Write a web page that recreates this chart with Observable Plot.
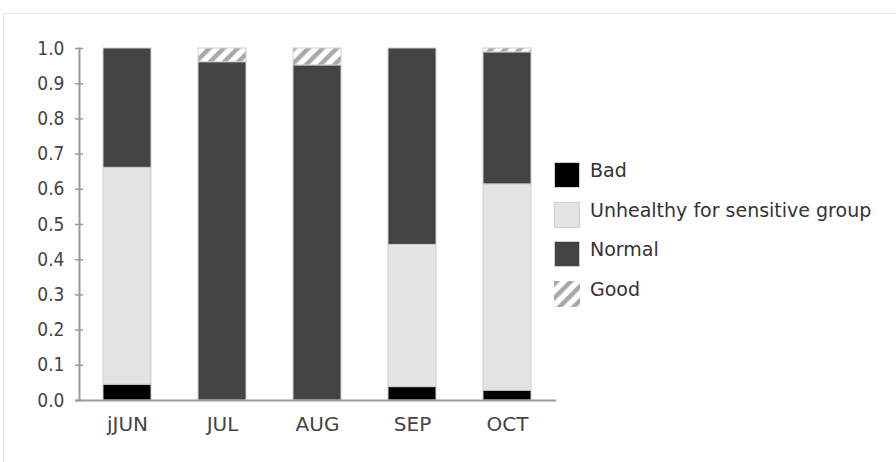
<!DOCTYPE html>
<html>
<head>
<meta charset="utf-8">
<script src="https://cdn.jsdelivr.net/npm/d3@7"></script>
<script src="https://cdn.jsdelivr.net/npm/@observablehq/plot@0.6"></script>
<style>
  html, body { margin: 0; padding: 0; background: #fff; }
  #wrap { position: relative; width: 896px; height: 462px; overflow: hidden; font-family: "DejaVu Sans", sans-serif; }
  #border { position: absolute; left: 3px; top: 13px; width: 900px; height: 470px; border: 1px solid #e6e6e6; box-sizing: border-box; }
  #chart { position: absolute; left: 0; top: 0; }
  .lg { position: absolute; left: 554px; width: 26px; height: 26px; box-sizing: border-box; }
  .lt { position: absolute; left: 590px; font-size: 19px; color: #333; line-height: 26px; white-space: nowrap; }
  .yl text { font-family: "DejaVu Sans Condensed", "DejaVu Sans", sans-serif; font-stretch: condensed; }
</style>
</head>
<body>
<div id="wrap">
  <div id="border"></div>
  <div id="chart"></div>
  <div id="legend"></div>
</div>
<script>
const months = ["jJUN", "JUL", "AUG", "SEP", "OCT"];
const categories = ["Bad", "Unhealthy for sensitive group", "Normal", "Good"];
const bad       = [0.045, 0,     0,     0.038, 0.028];
const unhealthy = [0.616, 0,     0,     0.404, 0.586];
const normal    = [0.339, 0.961, 0.952, 0.558, 0.375];
const good      = [0,     0.039, 0.048, 0,     0.011];
const yTicks = [0, 0.1, 0.2, 0.3, 0.4, 0.5, 0.6, 0.7, 0.8, 0.9, 1.0];

const colors = ["#000000", "#e3e3e3", "#434343", "url(#hatch)"];
const series = [bad, unhealthy, normal, good];
const rows = [];
categories.forEach((c, ci) => months.forEach((m, mi) => rows.push({month: m, cat: c, value: series[ci][mi]})));

const axisColor = "#9a9a9a";
const chart = Plot.plot({
  width: 896,
  height: 462,
  marginLeft: 75,
  marginRight: 340,
  marginTop: 48,
  marginBottom: 62,
  style: {fontFamily: "DejaVu Sans, sans-serif", fontSize: "19px", color: "#444", background: "transparent"},
  x: {domain: months, range: [78, 557], paddingInner: 0.49, paddingOuter: 0.245, label: null},
  y: {domain: [0, 1], label: null},
  color: {domain: categories, range: colors},
  marks: [
    Plot.barY(rows, Plot.stackY({order: categories}, {x: "month", y: "value", fill: "cat", stroke: "#cfcfcf", strokeWidth: 1, inset: 0})),
    Plot.ruleY([0], {stroke: axisColor, strokeWidth: 2}),
    Plot.frame({anchor: "left", dx: 4, stroke: axisColor, strokeWidth: 2}),
    Plot.axisY(yTicks, {tickSize: 8, dx: 8, tickFormat: () => "", stroke: axisColor, strokeWidth: 1.5, strokeOpacity: 1}),
    Plot.axisY(yTicks, {tickSize: 0, tickPadding: 11, tickFormat: d3.format(".1f"), fill: "#444", fontSize: 19, className: "yl"}),
    Plot.axisX({tickSize: 0, tickPadding: 16, fill: "#444", fontSize: 20})
  ]
});

// hatch pattern for "Good"
const ns = "http://www.w3.org/2000/svg";
const defs = document.createElementNS(ns, "defs");
defs.innerHTML = `<pattern id="hatch" patternUnits="userSpaceOnUse" width="10" height="10" patternTransform="rotate(45)">
  <rect width="10" height="10" fill="#ffffff"/>
  <rect x="0" y="0" width="4.5" height="10" fill="#a8a8a8"/>
</pattern>`;
chart.insertBefore(defs, chart.firstChild);
document.getElementById("chart").appendChild(chart);

// legend
const legend = document.getElementById("legend");
const tops = [162, 202, 241, 281];
categories.forEach((c, i) => {
  const sw = document.createElement("div");
  sw.className = "lg";
  sw.style.top = tops[i] + "px";
  if (i === 3) {
    sw.innerHTML = `<svg width="26" height="26"><defs><pattern id="hatchL" patternUnits="userSpaceOnUse" width="10" height="10" patternTransform="rotate(45)"><rect width="10" height="10" fill="#fff"/><rect width="4.5" height="10" fill="#a8a8a8"/></pattern></defs><rect width="26" height="26" fill="url(#hatchL)"/></svg>`;
  } else {
    sw.style.background = colors[i];
    sw.style.border = "1px solid #cfcfcf";
  }
  legend.appendChild(sw);
  const t = document.createElement("div");
  t.className = "lt";
  t.style.top = (tops[i] - 5) + "px";
  t.textContent = c;
  legend.appendChild(t);
});
</script>
</body>
</html>
